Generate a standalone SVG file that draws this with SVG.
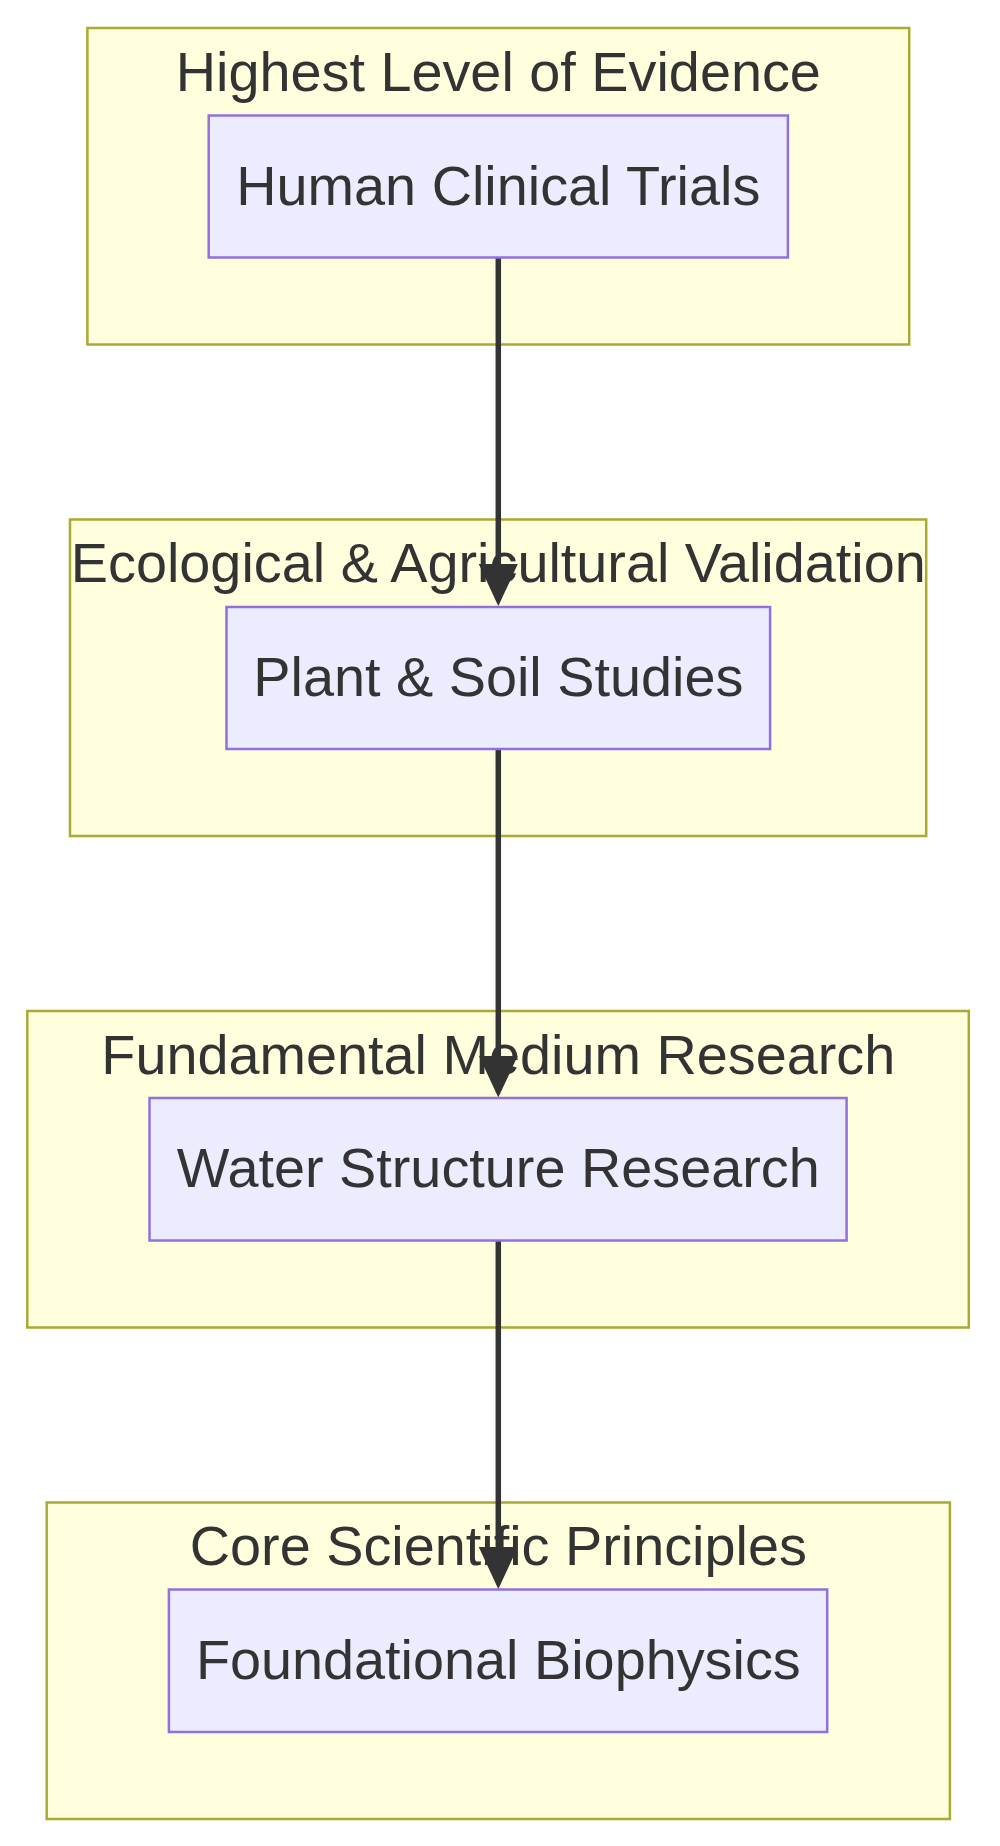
<svg xmlns="http://www.w3.org/2000/svg" width="1000" height="1846" viewBox="0 0 1000 1846">
<style>
.cluster{fill:#ffffde;stroke:#aaaa33;stroke-width:2.5}
.node{fill:#ececff;stroke:#9370db;stroke-width:2.5}
.lbl{font-family:"Liberation Sans",Arial,sans-serif;font-size:55.8px;fill:#333333;text-anchor:middle}
.edge{stroke:#333333;stroke-width:5.5;fill:none}
</style>
<defs>
<marker id="arrow" viewBox="0 0 10 10" refX="7.6" refY="5" markerUnits="userSpaceOnUse" markerWidth="42" markerHeight="39" orient="auto" preserveAspectRatio="none">
<path d="M0,0 L10,5 L0,10 z" fill="#333333"/>
</marker>
</defs>
<rect width="1000" height="1846" fill="#ffffff"/>
<g id="cluster-evidence">
<rect class="cluster" x="87.4" y="28" width="821.8" height="316.5"/>
<text class="lbl" x="498.3" y="91">Highest Level of Evidence</text>
</g>
<g id="cluster-ecological">
<rect class="cluster" x="70" y="519.5" width="856.2" height="316.5"/>
<text class="lbl" x="498.3" y="582">Ecological &amp; Agricultural Validation</text>
</g>
<g id="cluster-fundamental">
<rect class="cluster" x="27.3" y="1011" width="941.5" height="316.5"/>
<text class="lbl" x="498.3" y="1074">Fundamental Medium Research</text>
</g>
<g id="cluster-core">
<rect class="cluster" x="46.7" y="1502.5" width="903.2" height="316.5"/>
<text class="lbl" x="498.3" y="1565">Core Scientific Principles</text>
</g>
<g id="connectors">
<line class="edge" x1="498.3" y1="257" x2="498.3" y2="596" marker-end="url(#arrow)"/>
<line class="edge" x1="498.3" y1="749" x2="498.3" y2="1087.5" marker-end="url(#arrow)"/>
<line class="edge" x1="498.3" y1="1241" x2="498.3" y2="1579" marker-end="url(#arrow)"/>
</g>
<g id="node-human">
<rect class="node" x="208.7" y="115.5" width="579.2" height="142"/>
<text class="lbl" x="498.3" y="205">Human Clinical Trials</text>
</g>
<g id="node-plant">
<rect class="node" x="226.5" y="607" width="543.6" height="142"/>
<text class="lbl" x="498.3" y="696">Plant &amp; Soil Studies</text>
</g>
<g id="node-water">
<rect class="node" x="149.5" y="1098" width="697.1" height="142.5"/>
<text class="lbl" x="498.3" y="1187">Water Structure Research</text>
</g>
<g id="node-foundational">
<rect class="node" x="168.9" y="1589.5" width="658.3" height="142.5"/>
<text class="lbl" x="498.3" y="1678.5">Foundational Biophysics</text>
</g>
</svg>
